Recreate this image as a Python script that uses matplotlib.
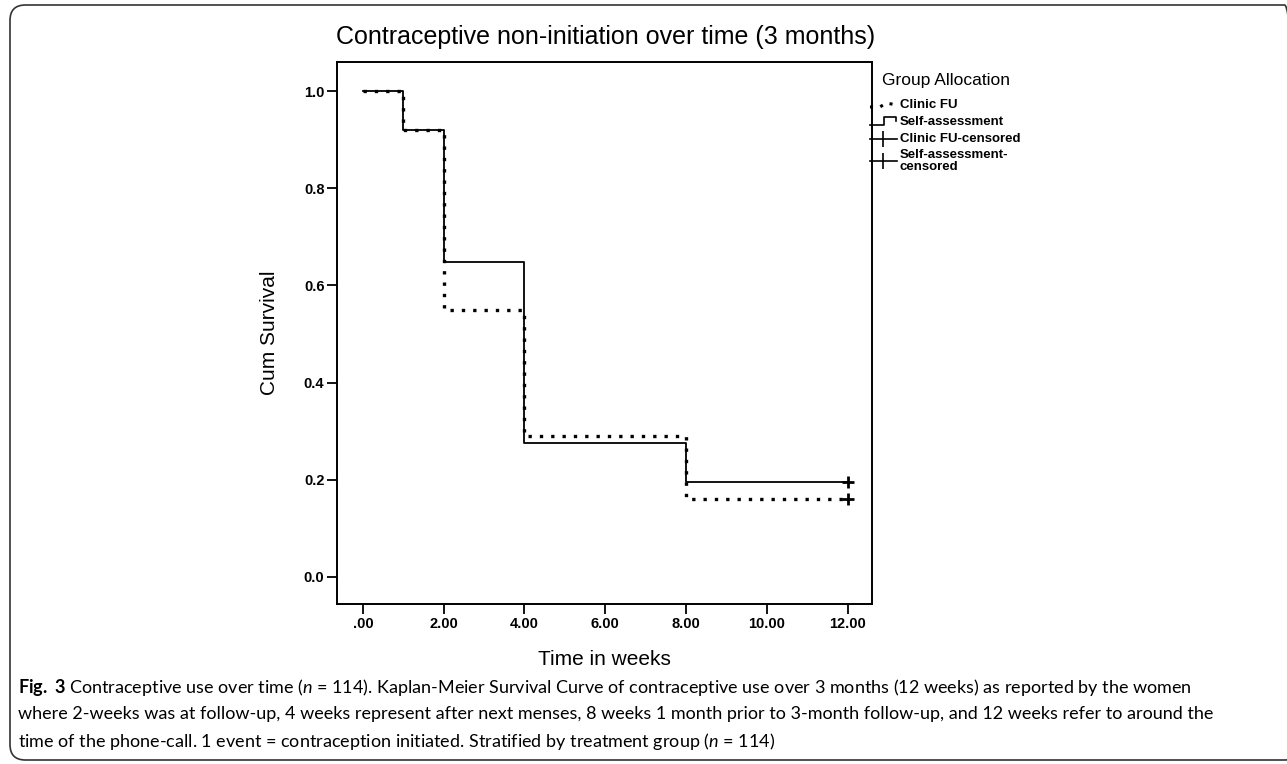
import matplotlib
matplotlib.use("Agg")
import matplotlib.pyplot as plt
from matplotlib.lines import Line2D
from matplotlib.patches import FancyBboxPatch

# ---------------- data ----------------
times = [0, 1, 2, 4, 8, 12]
clinic_fu = [1.0, 0.92, 0.55, 0.29, 0.16, 0.16]
self_assessment = [1.0, 0.92, 0.648, 0.275, 0.195, 0.195]
censor_time = 12
xtick_vals = [0, 2, 4, 6, 8, 10, 12]
xtick_labels = [".00", "2.00", "4.00", "6.00", "8.00", "10.00", "12.00"]
ytick_vals = [0.0, 0.2, 0.4, 0.6, 0.8, 1.0]
ytick_labels = ["0.0", "0.2", "0.4", "0.6", "0.8", "1.0"]
legend_labels = ["Clinic FU", "Self-assessment", "Clinic FU-censored", "Self-assessment-\ncensored"]

W, H = 1287, 764
plt.rcParams['font.family'] = ['Liberation Sans', 'DejaVu Sans']
plt.rcParams['mathtext.fontset'] = 'custom'
plt.rcParams['mathtext.rm'] = 'Lato'
plt.rcParams['mathtext.it'] = 'Lato:italic'
plt.rcParams['mathtext.bf'] = 'Lato:bold'

fig = plt.figure(figsize=(W / 100, H / 100), dpi=100)


def fx(x):
    return x / W


def fy(y):
    return 1 - y / H


# outer rounded border
box = FancyBboxPatch((fx(10), fy(760)), fx(1300) - fx(10), fy(5) - fy(760),
                     boxstyle="round,pad=0,rounding_size=0.012",
                     transform=fig.transFigure, fill=False, lw=1.2,
                     edgecolor="#333333", mutation_aspect=W / H)
fig.add_artist(box)

ax = fig.add_axes([fx(337), fy(604), fx(872) - fx(337), fy(62) - fy(604)])
ax.set_xlim(-0.64, 12.6)
ax.set_ylim(-0.056, 1.06)

ax.step(times, self_assessment, where='post', color='black', lw=1.3)
ax.step(times, clinic_fu, where='post', color='black', lw=2.4,
        linestyle=(0, (1, 2.4)), dash_capstyle='butt')
ax.plot([censor_time], [self_assessment[-1]], marker='+', color='black',
        ms=9, mew=2)
ax.plot([censor_time], [clinic_fu[-1]], marker='+', color='black',
        ms=9, mew=2)

ax.set_xticks(xtick_vals)
ax.set_xticklabels(xtick_labels, fontweight='bold', fontsize=10.5)
ax.set_yticks(ytick_vals)
ax.set_yticklabels(ytick_labels, fontweight='bold', fontsize=10.5)
ax.tick_params(direction='out', length=7, width=1.3, pad=2)
for s in ax.spines.values():
    s.set_linewidth(1.4)

ax.set_xlabel("Time in weeks", fontsize=15, labelpad=14)
ax.set_ylabel("Cum Survival", fontsize=15, labelpad=18)

fig.text(fx(606), fy(37), "Contraceptive non-initiation over time (3 months)",
         ha='center', va='center', fontsize=18)

# legend (manual)
fig.text(fx(882), fy(81), "Group Allocation", ha='left', va='center', fontsize=12.5)
tx = fx(900)
rows_y = [105, 122, 139, 161]
for lab, yy in zip(legend_labels, rows_y):
    fig.text(tx, fy(yy), lab, ha='left', va='center', fontsize=9.5,
             fontweight='bold', linespacing=0.95)
# Clinic FU handle: dotted
fig.add_artist(Line2D([fx(870), fx(880), fx(886), fx(897)],
                      [fy(107), fy(107), fy(103), fy(105)],
                      transform=fig.transFigure, color='black', lw=2.2,
                      linestyle=(0, (1, 2.4))))
# Self-assessment handle: step
fig.add_artist(Line2D([fx(870), fx(884), fx(884), fx(896), fx(896)],
                      [fy(125), fy(125), fy(117), fy(117), fy(121)],
                      transform=fig.transFigure, color='black', lw=1.2))
# censored handles
for yy in [139, 161]:
    fig.add_artist(Line2D([fx(870), fx(897)], [fy(yy), fy(yy)],
                          transform=fig.transFigure, color='black', lw=1.2))
    fig.add_artist(Line2D([fx(883)], [fy(yy)], transform=fig.transFigure,
                          marker='|', ms=12, mew=1.2, color='black'))

# caption
cap = [
    r"$\bf{Fig.\ 3}$ Contraceptive use over time ($\it{n}$ = 114). Kaplan-Meier Survival Curve of contraceptive use over 3 months (12 weeks) as reported by the women",
    "where 2-weeks was at follow-up, 4 weeks represent after next menses, 8 weeks 1 month prior to 3-month follow-up, and 12 weeks refer to around the",
    r"time of the phone-call. 1 event = contraception initiated. Stratified by treatment group ($\it{n}$ = 114)",
]
for i, line in enumerate(cap):
    fig.text(fx(18), fy(687 + i * 27), line, ha='left', va='center',
             fontsize=13, family=['Lato', 'DejaVu Sans'])

fig.savefig("out.png", dpi=100)
